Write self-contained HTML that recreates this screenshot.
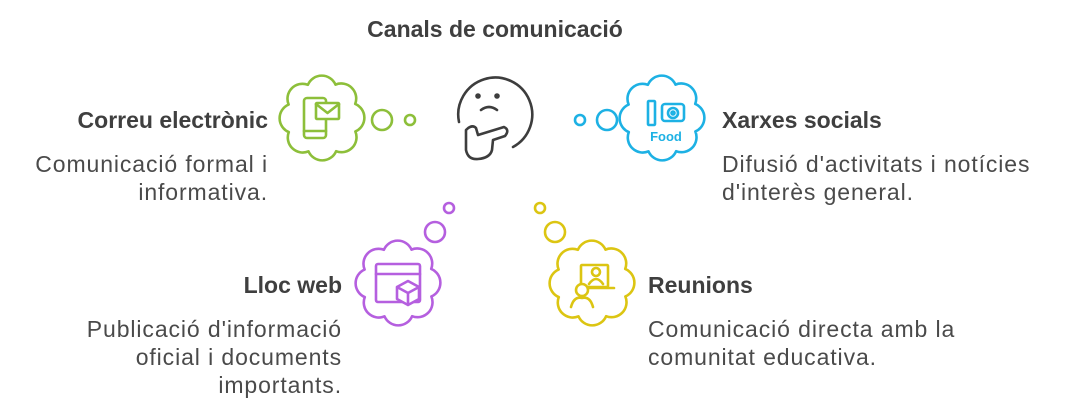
<!DOCTYPE html>
<html><head><meta charset="utf-8"><style>
html,body{margin:0;padding:0;background:#fff;}
body{width:1065px;height:420px;position:relative;overflow:hidden;font-family:"Liberation Sans",Arial,sans-serif;color:#444;}
.t{position:absolute;white-space:nowrap;}
.h{font-weight:bold;font-size:23px;line-height:26px;color:#3f3f3f;}
.d{font-size:23px;line-height:28px;color:#4a4a4a;letter-spacing:0.9px;}
.r{text-align:right;}
</style></head><body>
<svg width="1065" height="420" style="position:absolute;left:0;top:0" fill="none" stroke-width="2.6" stroke-linecap="round" stroke-linejoin="round">
<defs>
<path id="cl" d="M36,0 A15,15 0 0 1 25.5,25.5 A15,15 0 0 1 0,36 A15,15 0 0 1 -25.5,25.5 A15,15 0 0 1 -36,0 A15,15 0 0 1 -25.5,-25.5 A15,15 0 0 1 0,-36 A15,15 0 0 1 25.5,-25.5 A15,15 0 0 1 36,0 Z"/>
</defs>
<g stroke="#8dbf3a">
<use href="#cl" transform="translate(322,118) rotate(22)"/>
<rect x="304" y="98" width="22" height="40" rx="3"/>
<line x1="304" y1="131" x2="326" y2="131"/>
<rect x="316" y="103" width="23" height="16" rx="1" fill="#fff"/>
<path d="M316,104 L327.5,113 L339,104"/>
<circle cx="382" cy="120" r="10"/>
<circle cx="410" cy="120" r="5"/>
</g>
<g stroke="#1db1e4">
<use href="#cl" transform="translate(662,118) rotate(22)"/>
<rect x="648" y="101" width="7" height="24" rx="1"/>
<rect x="662" y="104" width="22" height="17" rx="3"/>
<circle cx="673" cy="113" r="5"/><circle cx="673" cy="113" r="1.5"/>
<circle cx="580" cy="120" r="5"/>
<circle cx="607" cy="120" r="10"/>
</g>
<text x="666" y="141" text-anchor="middle" font-family="Liberation Sans" font-weight="bold" font-size="13" fill="#1db1e4">Food</text>
<g stroke="#b55fdf">
<use href="#cl" transform="translate(398,283) rotate(22)"/>
<rect x="376" y="264" width="44" height="38" rx="2"/>
<line x1="376" y1="274" x2="420" y2="274"/>
<path d="M397,287 L408,281 L419,287 L419,299 L408,305 L397,299 Z M397,287 L408,293 L419,287 M408,293 L408,305" fill="#fff"/>
<circle cx="449" cy="208" r="5"/>
<circle cx="435" cy="232" r="10"/>
</g>
<g stroke="#dcc512">
<use href="#cl" transform="translate(592,283) rotate(22)"/>
<rect x="581" y="265" width="27" height="22" rx="1"/>
<path d="M577,288 L614,288"/>
<circle cx="596" cy="272" r="4"/>
<path d="M589,284 Q596,274 603,284"/>
<circle cx="582" cy="290" r="6" fill="#fff"/>
<path d="M571,307 Q574,296 582,298 Q590,296 593,307"/>
<circle cx="540" cy="208" r="5"/>
<circle cx="555" cy="232" r="10"/>
</g>
<g stroke="#3d3d3d">
<path d="M459,122 A37,37 0 1 1 513,147"/>
<circle cx="478" cy="96" r="1.5" fill="#3d3d3d"/>
<circle cx="497" cy="96" r="1.5" fill="#3d3d3d"/>
<path d="M481,110 Q489,104 497,110"/>
<path d="M466,130 L466,150 Q468,160 478,159 Q490,158 492,150 L493,140 L505,136 Q510,130 504,127 L478,135 L476,128 Q472,124 466,130 Z"/>
</g>
</svg>
<div class="t h" style="left:0;width:990px;text-align:center;top:16px;">Canals de comunicació</div>
<div class="t h r" style="right:797px;top:107px;">Correu electrònic</div>
<div class="t d r" style="right:797px;top:150px;">Comunicació formal i<br>informativa.</div>
<div class="t h" style="left:722px;top:107px;">Xarxes socials</div>
<div class="t d" style="left:722px;top:150px;">Difusió d'activitats i notícies<br>d'interès general.</div>
<div class="t h r" style="right:723px;top:272px;">Lloc web</div>
<div class="t d r" style="right:723px;top:315px;">Publicació d'informació<br>oficial i documents<br>importants.</div>
<div class="t h" style="left:648px;top:272px;">Reunions</div>
<div class="t d" style="left:648px;top:315px;">Comunicació directa amb la<br>comunitat educativa.</div>
</body></html>
